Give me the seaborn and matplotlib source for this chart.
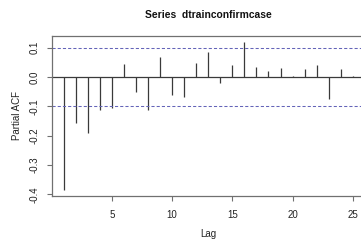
#!/usr/bin/env python3

import numpy as np
import matplotlib
matplotlib.use("Agg")
import matplotlib.pyplot as plt
import seaborn as sns

# PACF values
lags = np.arange(1, 26)
pacf = [-0.387, -0.158, -0.190, -0.113, -0.107, 0.044, -0.050, -0.113,
        0.069, -0.063, -0.067, 0.048, 0.086, -0.022, 0.041, 0.118,
        0.034, 0.022, 0.032, 0.005, 0.026, 0.041, -0.075, 0.027, 0.004]
clim = 0.0995
yticks = [0.1, 0.0, -0.1, -0.2, -0.3, -0.4]
xticks = [5, 10, 15, 20, 25]

sns.set_style("white")
plt.rcParams["font.family"] = ["Liberation Sans", "DejaVu Sans"]

fig = plt.figure(figsize=(3.61, 2.41), dpi=100)
ax = fig.add_axes([52 / 361, 1 - 196 / 241, 312.4 / 361, 160.3 / 241])

ax.vlines(lags, 0, pacf, color="#3a3a3a", lw=0.9)
ax.axhline(0, color="#3a3a3a", lw=0.9)
for c in (clim, -clim):
    ax.axhline(c, color="#6464b8", lw=0.75, linestyle=(0, (3, 2)))

ax.set_xlim(0.04, 25.96)
ax.set_ylim(-0.406, 0.141)
ax.set_xticks(xticks)
ax.set_yticks(yticks)
ax.set_yticklabels([f"{v:.1f}" for v in yticks], rotation=90, va="center")

for s in ax.spines.values():
    s.set_color("#707070")
    s.set_linewidth(0.9)
ax.tick_params(axis="both", direction="out", length=3.5, width=0.8,
               color="#707070", labelsize=7, labelcolor="#222222")
ax.tick_params(axis="x", pad=6.5, bottom=True)
ax.tick_params(axis="y", pad=5.5, left=True)

ax.set_xlabel("Lag", fontsize=7, color="#222222", labelpad=6.5)
ax.set_ylabel("Partial ACF", fontsize=7, color="#222222", labelpad=5.5)
ax.set_title("Series  dtrainconfirmcase", fontsize=7.4, fontweight="bold",
             color="#111111", pad=13)

fig.savefig("out.png", dpi=100)
